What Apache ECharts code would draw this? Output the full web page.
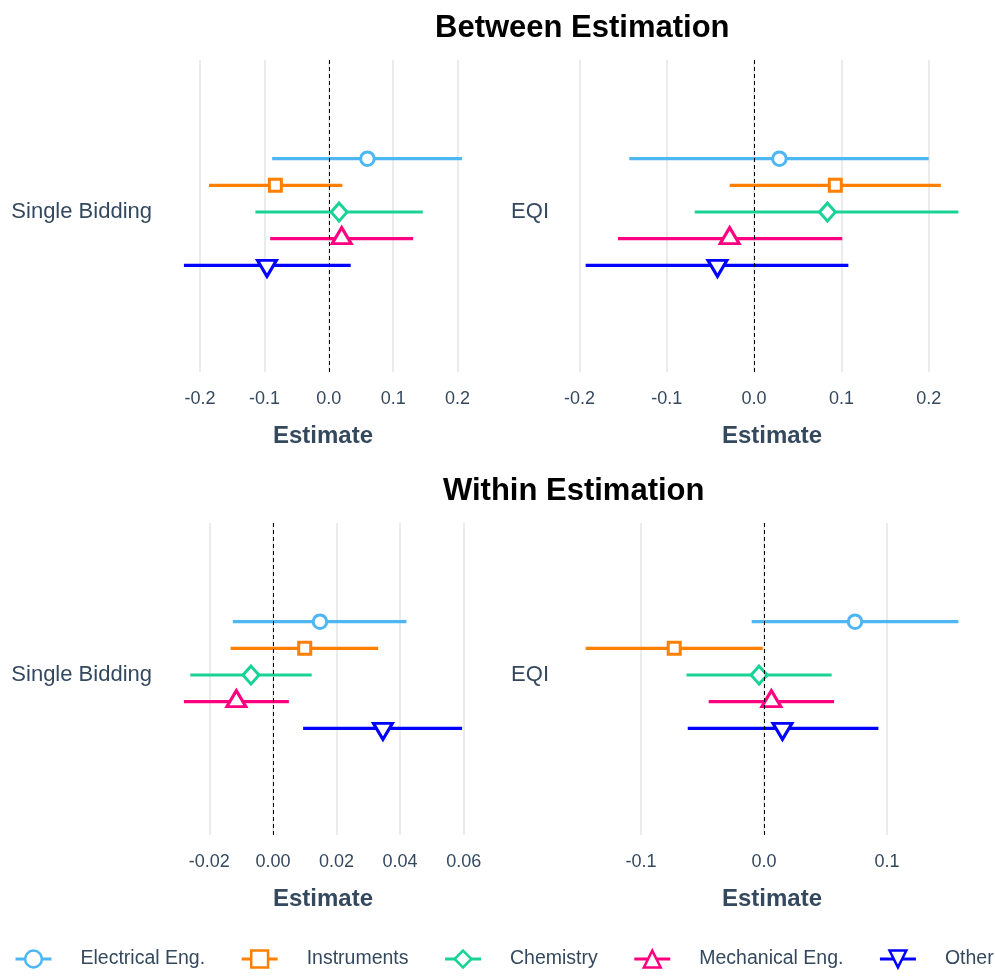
<!DOCTYPE html>
<html>
<head>
<meta charset="utf-8">
<script src="https://cdn.jsdelivr.net/npm/echarts@6/dist/echarts.min.js"></script>
<style>
  html, body { margin: 0; padding: 0; background: #ffffff; }
  #chart { width: 995px; height: 976px; }
</style>
</head>
<body>
<div id="chart"></div>
<script>
// Sector groups, drawn top to bottom inside each panel
const groups = ['Electrical Eng.', 'Instruments', 'Chemistry', 'Mechanical Eng.', 'Other'];

// Between estimation – Single Bidding
const betweenSBEst  = [0.060, -0.083, 0.016, 0.020, -0.096];
const betweenSBLow  = [-0.088, -0.186, -0.114, -0.091, -0.225];
const betweenSBHigh = [0.207, 0.021, 0.146, 0.131, 0.034];

// Between estimation – EQI
const betweenEQIEst  = [0.029, 0.093, 0.084, -0.028, -0.042];
const betweenEQILow  = [-0.143, -0.028, -0.068, -0.156, -0.193];
const betweenEQIHigh = [0.200, 0.214, 0.234, 0.101, 0.108];

// Within estimation – Single Bidding
const withinSBEst  = [0.0148, 0.0100, -0.0069, -0.0115, 0.0346];
const withinSBLow  = [-0.0126, -0.0133, -0.0260, -0.0280, 0.0095];
const withinSBHigh = [0.0420, 0.0331, 0.0122, 0.0050, 0.0595];

// Within estimation – EQI
const withinEQIEst  = [0.074, -0.073, -0.004, 0.006, 0.015];
const withinEQILow  = [-0.010, -0.145, -0.063, -0.045, -0.062];
const withinEQIHigh = [0.158, -0.001, 0.055, 0.057, 0.093];

const sectionTitles = ['Between Estimation', 'Within Estimation'];
const outcomeLabels = ['Single Bidding', 'EQI'];
const axisTitle = 'Estimate';

// Styling
const colors = ['#4DB6F3', '#FF7F00', '#19D396', '#FF0080', '#0000FF'];
const symbols = [
  'circle',
  'rect',
  'diamond',
  'path://M10,0L20,17L0,17Z',
  'path://M0,0L20,0L10,17Z'
];
const symbolSizes = [13.5, 12, [16, 18], [19, 16], [19, 16]];
const symbolOffsets = [[0, 0], [0, 0], [0, 0], [0, -3], [0, 3]];
const textColor = '#34495E';
const fontFamily = '"Liberation Sans", Arial, sans-serif';

const panels = [
  { est: betweenSBEst,  low: betweenSBLow,  high: betweenSBHigh,  label: outcomeLabels[0], digits: 1, split: 5,
    grid: { left: 170, top: 60, width: 306, height: 312 } },
  { est: betweenEQIEst, low: betweenEQILow, high: betweenEQIHigh, label: outcomeLabels[1], digits: 1, split: 5,
    grid: { left: 567, top: 60, width: 410, height: 312 } },
  { est: withinSBEst,   low: withinSBLow,   high: withinSBHigh,   label: outcomeLabels[0], digits: 2, split: 5,
    grid: { left: 170, top: 523, width: 306, height: 312 } },
  { est: withinEQIEst,  low: withinEQILow,  high: withinEQIHigh,  label: outcomeLabels[1], digits: 1, split: 4,
    grid: { left: 567, top: 523, width: 410, height: 312 } }
];

// x range: data extent padded by 5% on each side
function paddedExtent(p) {
  const lo = Math.min(...p.low), hi = Math.max(...p.high);
  const pad = (hi - lo) * 0.05;
  return [lo - pad, hi + pad];
}

const grids = [], xAxes = [], yAxes = [], series = [];

panels.forEach((p, k) => {
  grids.push(Object.assign({ containLabel: false }, p.grid));
  const [xmin, xmax] = paddedExtent(p);
  const step = Math.pow(10, -p.digits) * (p.digits === 2 ? 2 : 1);
  xAxes.push({
    type: 'value',
    gridIndex: k,
    min: xmin,
    max: xmax,
    splitNumber: p.split,
    axisLine: { show: false },
    axisTick: { show: false },
    splitLine: { show: true, showMinLine: false, showMaxLine: false,
                 lineStyle: { color: '#EBEBEB', width: 2 } },
    axisLabel: {
      margin: 18,
      fontSize: 18,
      color: textColor,
      fontFamily: fontFamily,
      showMinLabel: false,
      showMaxLabel: false,
      formatter: v => {
        const r = v / step;
        return Math.abs(r - Math.round(r)) < 1e-6 ? (Math.abs(v) < 1e-9 ? 0 : v).toFixed(p.digits) : '';
      }
    },
    name: axisTitle,
    nameLocation: 'middle',
    nameGap: 52,
    nameTextStyle: { fontSize: 24, fontWeight: 'bold', color: textColor, fontFamily: fontFamily }
  });
  yAxes.push({
    type: 'value',
    gridIndex: k,
    min: -6,
    max: 5.7,
    interval: 6,
    axisLine: { show: false },
    axisTick: { show: false },
    splitLine: { show: false },
    axisLabel: {
      margin: 18,
      fontSize: 22,
      color: textColor,
      fontFamily: fontFamily,
      formatter: v => (v === 0 ? p.label : '')
    }
  });

  groups.forEach((g, i) => {
    const y = 2 - i; // dodge position of the group
    const s = {
      type: 'line',
      name: g,
      xAxisIndex: k,
      yAxisIndex: k,
      data: [
        { value: [p.low[i], y], symbol: 'none' },
        { value: [p.est[i], y] },
        { value: [p.high[i], y], symbol: 'none' }
      ],
      symbol: symbols[i],
      symbolSize: symbolSizes[i],
      symbolOffset: symbolOffsets[i],
      showSymbol: true,
      showAllSymbol: true,
      itemStyle: { color: '#FFFFFF', borderColor: colors[i], borderWidth: 3 },
      lineStyle: { color: colors[i], width: 3.2 },
      emphasis: { disabled: true },
      silent: true,
      animation: false
    };
    if (i === groups.length - 1) {
      // reference line at zero, drawn above the marks
      s.markLine = {
        silent: true,
        symbol: 'none',
        label: { show: false },
        lineStyle: { color: '#000000', type: [4, 3], width: 1 },
        data: [{ xAxis: 0 }],
        animation: false
      };
    }
    series.push(s);
  });
});

const chart = echarts.init(document.getElementById('chart'), null, { renderer: 'canvas' });
chart.setOption({
  backgroundColor: '#FFFFFF',
  animation: false,
  title: [
    { text: sectionTitles[0], left: 435, top: 13, padding: 0,
      textStyle: { fontSize: 31, fontWeight: 'bold', color: '#000000', fontFamily: fontFamily } },
    { text: sectionTitles[1], left: 443, top: 476, padding: 0,
      textStyle: { fontSize: 31, fontWeight: 'bold', color: '#000000', fontFamily: fontFamily } }
  ],
  legend: {
    data: groups,
    left: 14,
    top: 949,
    width: 1200,
    padding: 0,
    itemWidth: 36,
    itemHeight: 21,
    itemGap: 35,
    selectedMode: false,
    lineStyle: { width: 3 },
    itemStyle: { borderWidth: 2.5 },
    textStyle: { fontSize: 19.5, color: textColor, fontFamily: fontFamily, padding: [0, 0, 0, 24] }
  },
  grid: grids,
  xAxis: xAxes,
  yAxis: yAxes,
  series: series
});
</script>
</body>
</html>
